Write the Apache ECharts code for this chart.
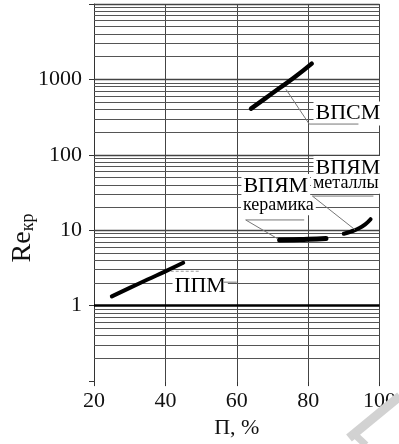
<!DOCTYPE html>
<html><head><meta charset="utf-8">
<script src="https://cdn.jsdelivr.net/npm/echarts@6/dist/echarts.min.js"></script>
<style>html,body{margin:0;padding:0;background:#fff}#c{width:399px;height:444px}</style>
</head><body><div id="c"></div>
<script>
// ---- data ----
const xTicks = [20, 40, 60, 80, 100];
const yTickLabels = ['1', '10', '100', '1000'];
const ppmX = [25, 30, 35, 40, 45];
const ppmY = [1.33, 1.72, 2.22, 2.85, 3.7];
const vpsmX = [64, 68, 72, 76, 81];
const vpsmY = [410, 560, 770, 1050, 1620];
const ceramX = [72, 76, 80, 85];
const ceramY = [7.4, 7.5, 7.6, 7.8];
const metalX = [90, 92, 94, 96, 97.5];
const metalY = [9, 9.6, 10.5, 12, 14];
const majorLevels = [10, 100, 1000, 10000];
const unitLevel = [1];
const minorLevels = [0.2, 0.3, 0.4, 0.5, 0.6, 0.7, 0.8, 0.9,
  2, 3, 4, 5, 6, 7, 8, 9,
  20, 30, 40, 50, 60, 70, 80, 90,
  200, 300, 400, 500, 600, 700, 800, 900,
  2000, 3000, 4000, 5000, 6000, 7000, 8000, 9000];
// annotation labels (text, x, y at left/middle)
const labelTexts = ['ВПСМ', 'ВПЯМ', 'металлы', 'ВПЯМ', 'керамика', 'ППМ'];
const labelX = [81.5, 81.5, 80.8, 61.3, 61.2, 42.0];
const labelY = [352, 67, 41.5, 38.5, 21.5, 1.83];
const labelSize = [22, 22, 18, 22, 18, 22];
// leader lines
const leaderVPSM = [[73.8, 739], [80.3, 256], [94.1, 256]];
const leaderMetal = [[93.1, 10.2], [81.2, 28.4], [98.3, 28.4]];
const leaderCeram = [[71.5, 7.7], [62.5, 13.7], [78.9, 13.7]];
const leaderPPM = [[56.3, 2.05], [60, 2.05]];
const leaderPPMTop = [[41.5, 2.86], [49.8, 2.86]];

const FONT = "'Liberation Serif','Times New Roman',serif";
const zip = (xs, ys) => xs.map((x, i) => [x, ys[i]]);
const curve = (name, xs, ys, w) => ({
  name, type: 'line', data: zip(xs, ys), smooth: true, symbol: 'none', z: 5,
  lineStyle: { color: '#000', width: w, cap: 'round' }
});

const chart = echarts.init(document.getElementById('c'), null, { renderer: 'canvas' });
const option = {
  animation: false,
  backgroundColor: '#fff',
  grid: { left: 94, right: 16, top: 4, bottom: 59 },
  xAxis: {
    type: 'value', min: 20, max: 100, interval: 20,
    axisLine: { show: false },
    axisTick: { show: true, length: 5, lineStyle: { color: '#333' } },
    splitLine: { show: true, lineStyle: { color: '#444', width: 1 } },
    axisLabel: { fontSize: 22, fontFamily: FONT, color: '#111', margin: 9 },
    name: 'П, %', nameLocation: 'middle', nameGap: 34,
    nameTextStyle: { fontSize: 22, fontFamily: FONT, color: '#111' }
  },
  yAxis: {
    type: 'log', logBase: 10, min: 0.1, max: 10000,
    axisLine: { show: true, lineStyle: { color: '#333', width: 1 } },
    axisTick: { show: true, length: 5, lineStyle: { color: '#333' } },
    splitLine: { show: false },
    axisLabel: {
      fontSize: 22, fontFamily: FONT, color: '#111', margin: 12,
      formatter: v => { const s = String(Math.round(v)); return (v >= 1 && yTickLabels.includes(s)) ? s : ''; }
    }
  },
  series: [
    {
      type: 'line', data: [], z: 1, silent: true,
      markLine: {
        silent: true, symbol: 'none', z: 1, label: { show: false }, animation: false,
        data: [
          ...minorLevels.map(v => ({ yAxis: v, lineStyle: { color: '#555', width: 1, type: 'solid' } })),
          ...majorLevels.map(v => ({ yAxis: v, lineStyle: { color: '#444', width: 1.4, type: 'solid' } })),
          ...unitLevel.map(v => ({ yAxis: v, lineStyle: { color: '#000', width: 2.5, type: 'solid' } }))
        ]
      }
    },
    curve('ППМ', ppmX, ppmY, 4),
    curve('ВПСМ', vpsmX, vpsmY, 4.5),
    curve('ВПЯМ керамика', ceramX, ceramY, 5),
    curve('ВПЯМ металлы', metalX, metalY, 4)
  ]
};
chart.setOption(option);

const toPx = p => chart.convertToPixel({ xAxisIndex: 0, yAxisIndex: 0 }, p);
const graphics = [];
labelTexts.forEach((t, i) => {
  const p = toPx([labelX[i], labelY[i]]);
  graphics.push({
    type: 'text', x: p[0], y: p[1], z: 50,
    style: {
      text: t, fontSize: labelSize[i], fontFamily: FONT, fill: '#000',
      align: 'left', verticalAlign: 'middle', backgroundColor: '#fff', padding: [1, 2]
    }
  });
});
[leaderVPSM, leaderMetal, leaderCeram, leaderPPM].forEach(pts => {
  graphics.push({
    type: 'polyline', z: 60, shape: { points: pts.map(toPx) },
    style: { stroke: '#777', lineWidth: 1, fill: null }
  });
});
graphics.push({
  type: 'polyline', z: 60, shape: { points: leaderPPMTop.map(toPx) },
  style: { stroke: '#999', lineWidth: 1, fill: null, lineDash: [3, 2] }
});
// y axis title Re_кр
graphics.push({
  type: 'text', x: 23, y: 238, rotation: Math.PI / 2, z: 50,
  style: {
    text: '{a|Re}{b|кр}', align: 'center', verticalAlign: 'middle', fill: '#111',
    rich: {
      a: { fontSize: 28, fontFamily: FONT, fill: '#111' },
      b: { fontSize: 18, fontFamily: FONT, fill: '#111', verticalAlign: 'bottom', padding: [10, 0, 0, 0] }
    }
  }
});
// watermark stroke
graphics.push({
  type: 'polyline', z: 70, shape: { points: [[400, 396], [349, 438]] },
  style: { stroke: '#d2d2d2', lineWidth: 9, fill: null }
});
graphics.push({
  type: 'polyline', z: 70, shape: { points: [[352, 432], [366, 445]] },
  style: { stroke: '#d2d2d2', lineWidth: 7, fill: null }
});
chart.setOption({ graphic: graphics });
</script>
</body></html>
